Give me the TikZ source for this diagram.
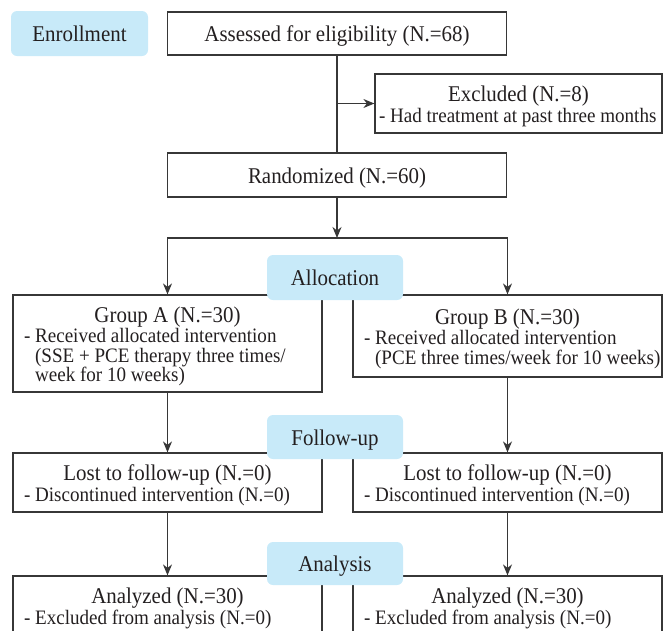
\documentclass[tikz,border=0pt]{standalone}
\usepackage{fontspec}
\setmainfont{Liberation Serif}[FakeStretch=0.93]
\usetikzlibrary{arrows.meta,positioning}
\definecolor{phasefill}{RGB}{200,234,249}
\definecolor{ink}{RGB}{35,31,32}
\definecolor{rulegray}{RGB}{55,55,55}
\newcommand{\mainsz}{\fontsize{22.5}{24}\selectfont\spaceskip=0pt\xspaceskip=0pt}
\newcommand{\subsz}{\fontsize{20.5}{19.5}\selectfont\spaceskip=0pt\xspaceskip=0pt}
\newcommand{\ind}{\phantom{- }}
\newcommand{\hd}[1]{{\centering\mainsz #1\par}\vspace{1pt}\raggedright\subsz}
\newcommand{\subline}[1]{\mbox{#1}\par}
\begin{document}
\begin{tikzpicture}[x=1pt,y=-1pt,>={Stealth[length=11pt,width=9pt,inset=3.5pt]},
		box/.style={draw=rulegray,line width=1.2pt,rectangle,inner sep=0pt,text=ink,font=\mainsz,text height=21pt},
		infobox/.style={box,align=left,inner xsep=11pt,text width=287pt},
		phase/.style={fill=phasefill,rounded corners=6pt,inner sep=0pt,minimum width=136pt,minimum height=44pt,text=ink,font=\mainsz,text height=21pt,text depth=5pt},
		link/.style={draw=rulegray,line width=1.2pt}]
				\useasboundingbox (0,0) rectangle (663,630);
				\clip (0,0) rectangle (663,630);
				\node[box,minimum width=339pt,minimum height=43pt] (assess) at (337,33.5) {Assessed for eligibility (N.=68)};
				\node[box,align=left,inner xsep=4pt,text width=279pt,minimum height=59pt] (excl) at (518.5,103.5) {\hd{Excluded (N.=8)}\subline{- Had treatment at past three months}};
				\node[box,minimum width=339pt,minimum height=44pt] (rand) at (337,175) {Randomized (N.=60)};
				\node[infobox,minimum height=97pt] (grpA) at (167.5,343.5) {\hd{Group A (N.=30)}\subline{- Received allocated intervention}\subline{\ind(SSE + PCE therapy three times/}\subline{\ind week for 10 weeks)}};
				\node[infobox,minimum height=82pt] (grpB) at (507.5,336) {\hd{Group B (N.=30)}\subline{- Received allocated intervention}\subline{\ind(PCE three times/week for 10 weeks)}};
				\node[infobox,minimum height=59pt] (lostA) at (167.5,482.5) {\hd{Lost to follow-up (N.=0)}\subline{- Discontinued intervention (N.=0)}};
				\node[infobox,minimum height=59pt] (lostB) at (507.5,482.5) {\hd{Lost to follow-up (N.=0)}\subline{- Discontinued intervention (N.=0)}};
				\node[infobox,minimum height=59pt] (anaA) at (167.5,605.5) {\hd{Analyzed (N.=30)}\subline{- Excluded from analysis (N.=0)}};
				\node[infobox,minimum height=59pt] (anaB) at (507.5,605.5) {\hd{Analyzed (N.=30)}\subline{- Excluded from analysis (N.=0)}};
				\draw[link] (assess) -- (rand);
				\coordinate (exclsplit) at (assess.south |- excl.west);
				\draw[link,->] (exclsplit) -- (excl);
				\coordinate (allocsplit) at (337,238);
				\draw[link,->] (rand) -- (allocsplit);
				\draw[link,->] (allocsplit) -| (grpA);
				\draw[link,->] (allocsplit) -| (grpB);
				\draw[link,->] (grpA) -- (lostA);
				\draw[link,->] (grpB) -- (lostB);
				\draw[link,->] (lostA) -- (anaA);
				\draw[link,->] (lostB) -- (anaB);
				\node[phase,minimum width=137pt,minimum height=45pt] (enroll) at (79.5,33.5) {Enrollment};
				\node[phase,minimum height=45pt] (alloc) at (335,277.5) {Allocation};
				\node[phase] (fup) at (335,437) {Follow-up};
				\node[phase,minimum height=43pt] (anal) at (335,563.5) {Analysis};
		\end{tikzpicture}
\end{document}
